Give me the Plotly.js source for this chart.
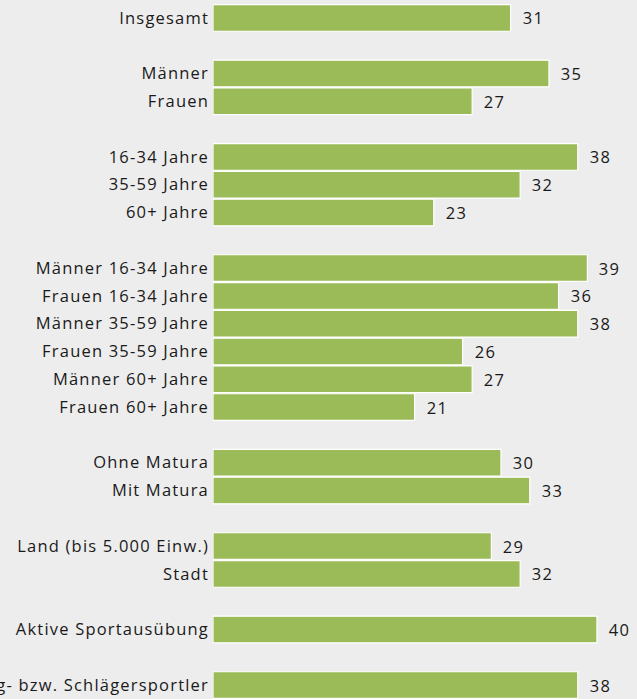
<!DOCTYPE html>
<html>
<head>
<meta charset="utf-8">
<script src="https://cdn.plot.ly/plotly-3.0.1.min.js"></script>
<style>
  html, body { margin: 0; padding: 0; background: #ededed; }
  #chart { width: 637px; height: 699px; }
  /* the source labels are set quite loose */
  #chart text { letter-spacing: 1.2px; }
</style>
</head>
<body>
<div id="chart"></div>
<script>
// categories top to bottom; the whitespace entries are the empty rows between groups
var labels = [
    "Insgesamt", " ",
    "Männer", "Frauen", "  ",
    "16-34 Jahre", "35-59 Jahre", "60+ Jahre", "   ",
    "Männer 16-34 Jahre", "Frauen 16-34 Jahre", "Männer 35-59 Jahre",
    "Frauen 35-59 Jahre", "Männer 60+ Jahre", "Frauen 60+ Jahre", "    ",
    "Ohne Matura", "Mit Matura", "     ",
    "Land (bis 5.000 Einw.)", "Stadt", "      ",
    "Aktive Sportausübung", "       ",
    "Rückschlag- bzw. Schlägersportler"
];
var values = [
    31, null,
    35, 27, null,
    38, 32, 23, null,
    39, 36, 38, 26, 27, 21, null,
    30, 33, null,
    29, 32, null,
    40, null,
    38
];

var barColor = "#9bbb59";
var textFont = { family: "'Open Sans', 'Noto Sans', sans-serif", size: 16.5, color: "#1a1a1a" };

var trace = {
    type: "bar",
    orientation: "h",
    y: labels,
    x: values,
    marker: { color: barColor, line: { color: "#ffffff", width: 1.2 } },
    hoverinfo: "none"
};

var notes = [];
for (var i = 0; i < labels.length; i++) {
    if (values[i] === null) continue;
    notes.push({
        x: values[i], y: labels[i], xref: "x", yref: "y",
        text: String(values[i]), showarrow: false,
        xanchor: "left", xshift: 11, font: textFont
    });
}

var layout = {
    width: 637,
    height: 699,
    margin: { l: 213, r: 0, t: 4, b: 0 },
    paper_bgcolor: "#ededed",
    plot_bgcolor: "#ededed",
    showlegend: false,
    bargap: 0.04,
    xaxis: {
        range: [0, 44.17],
        showgrid: false, zeroline: false, showticklabels: false, showline: false,
        fixedrange: true
    },
    yaxis: {
        type: "category",
        autorange: "reversed",
        showgrid: false, zeroline: false, showline: false,
        ticks: "", ticklabelstandoff: 3,
        tickfont: textFont,
        fixedrange: true
    },
    annotations: notes
};

Plotly.newPlot("chart", [trace], layout, { staticPlot: true });
</script>
</body>
</html>
